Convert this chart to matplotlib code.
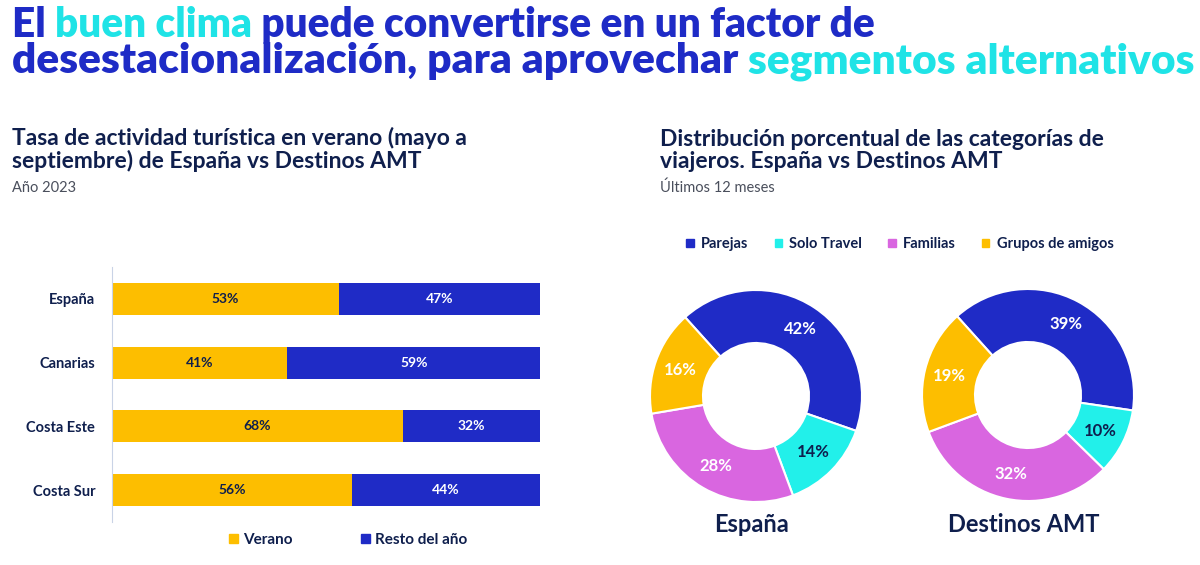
import matplotlib; matplotlib.use("Agg")
import matplotlib.pyplot as plt
from matplotlib.patches import Patch
import numpy as np

NAVY = "#1e2bc6"; CYAN = "#1fe3e6"; INK = "#0f1f4d"; GREY = "#4a4f5c"
YEL = "#fdbe00"; BLUE = "#1f2bc6"; PINK = "#d966e0"; AQUA = "#22f0ea"
FAM = ["Lato", "DejaVu Sans"]
plt.rcParams.update({"font.family": FAM, "text.color": INK})

# bar chart data
destinos = ["España", "Canarias", "Costa Este", "Costa Sur"]
verano = [53, 41, 68, 56]
resto = [47, 59, 32, 44]

# donut data
categorias = ["Parejas", "Solo Travel", "Familias", "Grupos de amigos"]
espana = [42, 14, 28, 16]
amt = [39, 10, 32, 19]
cat_colors = [BLUE, AQUA, PINK, YEL]
lbl_colors = ["white", INK, "white", "white"]

W, H = 1200, 565
fig = plt.figure(figsize=(12, 5.65), dpi=100)
fig.patch.set_facecolor("white")
R = fig.canvas.get_renderer()

def px(x, y):
    return x / W, 1 - y / H

def fit_size(s, target_w, weight="bold", size=12):
    t = fig.text(0, 0, s, fontsize=size, fontweight=weight)
    w = t.get_window_extent(R).width
    t.remove()
    return size * target_w / w

def rich_line(pieces, x0, y, target_w, size):
    # place colored pieces one after another, then scale to target width
    def draw(sz):
        arts = []; x = x0
        for s, c in pieces:
            t = fig.text(*px(x, y), s, color=c, fontsize=sz, fontweight="heavy",
                         va="baseline", ha="left")
            arts.append(t)
            x += t.get_window_extent(R).width
        return arts, x - x0
    arts, w = draw(size)
    for a in arts: a.remove()
    draw(size * target_w / w)

rich_line([("El ", NAVY), ("buen clima", CYAN), (" puede convertirse en un factor de", NAVY)],
          12, 37, 861, 30)
rich_line([("desestacionalización, para aprovechar ", NAVY), ("segmentos alternativos", CYAN)],
          12, 73, 1178, 30)

# section headings
hs = fit_size("Tasa de actividad turística en verano (mayo a", 453)
fig.text(*px(12, 168), "Tasa de actividad turística en verano (mayo a\nseptiembre) de España vs Destinos AMT",
         fontsize=hs, fontweight="bold", color=INK, va="baseline", linespacing=1.05)
fig.text(*px(12, 192), "Año 2023", fontsize=10.5, color=GREY, va="baseline")
fig.text(*px(660, 168), "Distribución porcentual de las categorías de\nviajeros. España vs Destinos AMT",
         fontsize=hs, fontweight="bold", color=INK, va="baseline", linespacing=1.05)
fig.text(*px(660, 192), "Últimos 12 meses", fontsize=10.5, color=GREY, va="baseline")

# stacked bars
l, b = px(112, 522)
ax = fig.add_axes([l, b, (540 - 112) / W, (522 - 267) / H])
ypos = range(len(destinos))
ax.barh(ypos, verano, height=0.5, color=YEL)
ax.barh(ypos, resto, left=verano, height=0.5, color=BLUE)
for i in ypos:
    ax.text(verano[i] / 2, i, f"{verano[i]}%", ha="center", va="center",
            fontsize=10, fontweight="bold", color=INK)
    ax.text(verano[i] + resto[i] / 2, i, f"{resto[i]}%", ha="center", va="center",
            fontsize=10, fontweight="bold", color="white")
ax.set_xlim(0, 100); ax.set_ylim(len(destinos) - 0.5, -0.5)
ax.set_yticks(list(ypos)); ax.set_yticklabels(destinos, fontsize=10.5, fontweight="bold", color=INK)
ax.set_xticks([])
for s in ["top", "right", "bottom"]: ax.spines[s].set_visible(False)
ax.spines["left"].set_color("#c9d3e6")
ax.tick_params(length=0, pad=12)
ax.set_facecolor("none")
fig.legend(handles=[Patch(color=YEL, label="Verano"), Patch(color=BLUE, label="Resto del año")],
           loc="center", bbox_to_anchor=px(348, 540), ncol=2, frameon=False,
           handlelength=0.6, handleheight=0.6, handletextpad=0.3, columnspacing=4.5,
           prop={"size": 11, "weight": "bold"}, labelcolor=INK)

# donuts
def donut(cx, cy, r, vals, name):
    l, b = px(cx - r, cy + r)
    a = fig.add_axes([l, b, 2 * r / W, 2 * r / H])
    wedges, _ = a.pie(vals, colors=cat_colors, startangle=132, counterclock=False,
                      wedgeprops=dict(width=0.5, edgecolor="white", linewidth=1.5))
    for wd, v, c in zip(wedges, vals, lbl_colors):
        ang = np.deg2rad((wd.theta1 + wd.theta2) / 2)
        a.text(0.76 * np.cos(ang), 0.76 * np.sin(ang), f"{v}%", ha="center", va="center",
               fontsize=12, fontweight="bold", color=c)
    a.set_xlim(-1, 1); a.set_ylim(-1, 1); a.set_aspect("equal")
    fig.text(*px(cx - 4, 532), name, ha="center", va="baseline", fontsize=17,
             fontweight="bold", color=INK)

donut(756, 396, 106, espana, "España")
donut(1028, 395, 106, amt, "Destinos AMT")

fig.legend(handles=[Patch(color=c, label=n) for c, n in zip(cat_colors, categorias)],
           loc="center", bbox_to_anchor=px(900, 244), ncol=4, frameon=False,
           handlelength=0.5, handleheight=0.5, handletextpad=0.5, columnspacing=1.8,
           prop={"size": 10.5, "weight": "bold"}, labelcolor=INK)

fig.savefig("out.png", dpi=100, facecolor="white")
